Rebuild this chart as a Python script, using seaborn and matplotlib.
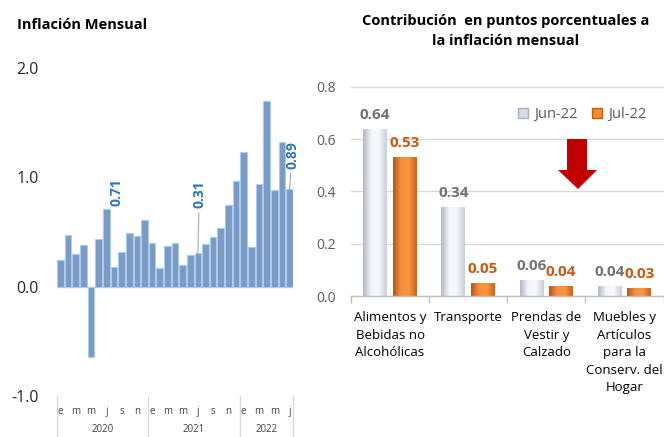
import numpy as np
import pandas as pd
import matplotlib
matplotlib.use("Agg")
import matplotlib.pyplot as plt
import matplotlib.transforms as mtransforms
from matplotlib.patches import Polygon, Patch
from matplotlib.colors import LinearSegmentedColormap
import seaborn as sns

# ---------------- data ----------------
month_letters = ["e", "f", "m", "a", "m", "j", "j", "a", "s", "o", "n", "d"]
years = [2020] * 12 + [2021] * 12 + [2022] * 7
inflation = [0.24, 0.47, 0.30, 0.38, -0.64, 0.44, 0.71, 0.18, 0.32, 0.49, 0.46, 0.61,
             0.40, 0.17, 0.37, 0.40, 0.20, 0.29, 0.31, 0.39, 0.45, 0.54, 0.75, 0.97,
             1.23, 0.36, 0.94, 1.70, 0.88, 1.32, 0.89]
labeled_idx = [6, 18, 30]
left_yticks = [-1.0, 0.0, 1.0, 2.0]

categories = ["Alimentos y\nBebidas no\nAlcohólicas", "Transporte",
              "Prendas de\nVestir y\nCalzado",
              "Muebles y\nArtículos\npara la\nConserv. del\nHogar"]
jun22 = [0.64, 0.34, 0.06, 0.04]
jul22 = [0.53, 0.05, 0.04, 0.03]
series_names = ["Jun-22", "Jul-22"]
right_yticks = [0.0, 0.2, 0.4, 0.6, 0.8]

# ---------------- style ----------------
sns.set_theme(style="white")
plt.rcParams["font.family"] = ["Open Sans", "DejaVu Sans"]

W, H = 664, 437
fig = plt.figure(figsize=(W / 100, H / 100), dpi=100)

def fx(px):
    return px / W

def fy(py):
    return 1 - py / H

# ---------------- left chart ----------------
ax1 = fig.add_axes([fx(56.7), fy(396), fx(293.3) - fx(56.7), fy(68) - fy(396)])
df1 = pd.DataFrame({"pos": np.arange(len(inflation)), "val": inflation})
sns.barplot(data=df1, x="pos", y="val", ax=ax1, color="#7B9BC4",
            edgecolor="#A8CBEE", linewidth=0.8, width=0.87, saturation=1)
ax1.set_xlim(-0.5, len(inflation) - 0.5)
ax1.set_ylim(-1.0, 2.0)
ax1.axhline(0, color="#D9D9D9", lw=1.0, zorder=0.5)
for s in ax1.spines.values():
    s.set_visible(False)
ax1.set_yticks(left_yticks)
ax1.set_yticklabels([f"{v:.1f}" for v in left_yticks], fontsize=11.5, color="#262626")
ax1.tick_params(axis="y", length=0, pad=13)
xt = list(range(0, len(inflation), 2))
ax1.set_xticks(xt)
ax1.set_xticklabels([month_letters[i % 12] for i in xt], fontsize=7, color="#404040")
ax1.tick_params(axis="x", length=0, pad=7)
ax1.set_xlabel("")
ax1.set_ylabel("")

trans1 = mtransforms.blended_transform_factory(ax1.transData, ax1.transAxes)
yrs = np.array(years)
bounds = [-0.5] + [i - 0.5 for i in range(1, len(yrs)) if yrs[i] != yrs[i - 1]] + [len(yrs) - 0.5]
for b in bounds:
    ax1.plot([b, b], [0, -0.14], transform=trans1, color="#D9D9D9", lw=1, clip_on=False)
for y in sorted(set(years)):
    idx = np.where(yrs == y)[0]
    ax1.text(idx.mean(), -0.102, str(y), transform=trans1, ha="center", va="center",
             fontsize=7, color="#404040")

offsets = {6: (7, 2), 18: (1, 32), 30: (2, 15)}
for i in labeled_idx:
    dx, dy = offsets[i]
    ap = None if i == 6 else dict(arrowstyle="-", color="#A6A6A6", lw=0.8, shrinkA=1, shrinkB=0)
    ax1.annotate(f"{inflation[i]:.2f}", xy=(i, inflation[i]), xytext=(dx, dy),
                 textcoords="offset points", rotation=90, ha="center", va="bottom",
                 fontsize=10, fontweight="bold", color="#2E75B6", arrowprops=ap)

fig.text(fx(17), fy(25), "Inflación Mensual", fontsize=10.5, fontweight="bold",
         ha="left", va="center", color="#000000")

# ---------------- right chart ----------------
ax2 = fig.add_axes([fx(351), fy(296), fx(663.5) - fx(351), fy(86.7) - fy(296)])
df2 = pd.DataFrame({
    "cat": categories * 2,
    "val": jun22 + jul22,
    "serie": [series_names[0]] * len(categories) + [series_names[1]] * len(categories),
})
colors = ["#DCE3EC", "#F58A35"]
sns.barplot(data=df2, x="cat", y="val", hue="serie", palette=colors, ax=ax2,
            width=0.76, gap=0.2, saturation=1, edgecolor="none", legend=False)
ax2.set_xlim(-0.5, len(categories) - 0.5)
ax2.set_ylim(0, 0.8)

# gradient shading on bars
cmaps = [LinearSegmentedColormap.from_list("g", ["#B0B8C3", "#F3F6FA", "#F6F8FB", "#C8CFD8"]),
         LinearSegmentedColormap.from_list("o", ["#B8561A", "#F7903D", "#F8953F", "#C9621F"])]
grad = np.linspace(0, 1, 64).reshape(1, -1)
for ci, cont in enumerate(ax2.containers):
    for p in cont.patches:
        x0, y0 = p.get_x(), p.get_y()
        w, h = p.get_width(), p.get_height()
        im = ax2.imshow(grad, extent=[x0, x0 + w, y0, y0 + h], aspect="auto",
                        cmap=cmaps[ci], zorder=2.1, interpolation="bicubic")
        im.set_clip_path(p)
ax2.set_xlim(-0.5, len(categories) - 0.5)
ax2.set_ylim(0, 0.8)
ax2.set_aspect("auto")

for s in ["top", "right", "left"]:
    ax2.spines[s].set_visible(False)
ax2.spines["bottom"].set_color("#BFBFBF")
ax2.spines["bottom"].set_linewidth(1)
ax2.set_yticks(right_yticks)
ax2.set_yticklabels([f"{v:.1f}" for v in right_yticks], fontsize=10, color="#595959")
ax2.tick_params(axis="y", length=0, pad=11)
ax2.yaxis.grid(True, color="#D9D9D9", lw=1)
ax2.set_axisbelow(True)
ax2.set_xticks(range(len(categories)))
ax2.set_xticklabels(categories, fontsize=9.5, color="#000000", linespacing=1.45, va="top")
ax2.set_xticks(np.arange(-0.5, len(categories), 1), minor=True)
ax2.tick_params(axis="x", which="major", length=0, pad=11)
ax2.tick_params(axis="x", which="minor", length=5, color="#BFBFBF", width=1, bottom=True)
ax2.set_xlabel("")
ax2.set_ylabel("")

label_colors = ["#737373", "#C55A11"]
for ci, cont in enumerate(ax2.containers):
    vals = jun22 if ci == 0 else jul22
    for j, p in enumerate(cont.patches):
        ax2.annotate(f"{vals[j]:.2f}", xy=(p.get_x() + p.get_width() / 2, p.get_height()),
                     xytext=(0, 5), textcoords="offset points", ha="center", va="bottom",
                     fontsize=11, fontweight="bold", color=label_colors[ci])

handles = [Patch(facecolor="#D5DCE6", edgecolor="#A9B1BC"),
           Patch(facecolor="#F58A35", edgecolor="#C55A11")]
ax2.legend(handles, series_names, ncol=2, frameon=False, loc="center",
           bbox_to_anchor=(0.74, 0.865), handlelength=0.7, handleheight=0.7,
           columnspacing=1.0, handletextpad=0.4, fontsize=10.5, labelcolor="#595959")

fig.text(fx(506), fy(31), "Contribución  en puntos porcentuales a\nla inflación mensual",
         fontsize=10.5, fontweight="bold", ha="center", va="center", linespacing=1.5,
         color="#000000")

# decorative red arrow
arrow_px = [(567, 139), (587, 139), (587, 170), (597, 170), (578, 189), (558, 170), (567, 170)]
fig.add_artist(Polygon([(fx(x), fy(y)) for x, y in arrow_px], closed=True,
                       transform=fig.transFigure, facecolor="#C00000", edgecolor="none"))

fig.savefig("out.png", dpi=100)
